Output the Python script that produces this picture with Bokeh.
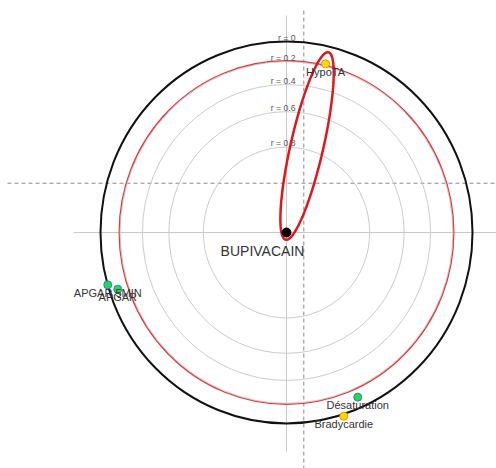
import numpy as np
from bokeh.plotting import figure
from bokeh.models import ColumnDataSource
from bokeh.core.properties import value
from bokeh.embed import file_html
from bokeh.resources import INLINE

# Focused PCA around BUPIVACAIN: position of each variable in the plane
names = ["HypoTA", "APGAR 5MIN", "APGAR", "Désaturation", "Bradycardie"]
xs = [0.21, -0.961, -0.907, 0.383, 0.308]
ys = [0.883, -0.274, -0.297, -0.862, -0.962]
fills = ["#ffdd00", "#22dd44", "#22dd44", "#22dd44", "#ffdd00"]
outlines = ["#ff8c00", "#3377dd", "#3377dd", "#3377dd", "#ff8c00"]

focus_name = "BUPIVACAIN"

# correlation rings (radius = sqrt(1 - r))
ring_r = [0.0, 0.2, 0.4, 0.6, 0.8]
ring_labels = ["r = 0", "r = 0.2", "r = 0.4", "r = 0.6", "r = 0.8"]
signif_radius = 0.9

# confidence ellipse of the focused variable
ell_center = (0.1105, 0.453)
ell_a, ell_b, ell_angle_deg = 0.504, 0.088, 76.8

FONT = "Liberation Sans"

p = figure(width=496, height=468, output_backend="svg", toolbar_location=None,
           x_range=(-1.5376, 1.129), y_range=(-1.2356, 1.2147),
           min_border=0, min_border_left=0, min_border_right=0,
           min_border_top=0, min_border_bottom=0)
p.axis.visible = False
p.grid.visible = False
p.outline_line_color = None
p.background_fill_color = "white"
p.border_fill_color = "white"

# reference axes through the centre
p.line([-1.145, 1.2], [0, 0], line_color="#c8c8c8", line_width=1)
p.line([0, 0], [1.136, -1.147], line_color="#c8c8c8", line_width=1)
# dashed guide lines
p.line([-1.5, 1.2], [0.258, 0.258], line_color="#8a8a8a", line_width=1, line_dash="4 3")
p.line([0.093, 0.093], [1.162, -1.3], line_color="#8a8a8a", line_width=1, line_dash="4 3")

# rings
radii = [float(np.sqrt(1 - r)) for r in ring_r]
inner = radii[1:]
p.ellipse(x=[0] * len(inner), y=[0] * len(inner), width=[2 * r for r in inner],
          height=[2 * r for r in inner], fill_color=None, line_color="#cccccc", line_width=1)
p.ellipse(x=[0], y=[0], width=[2 * signif_radius], height=[2 * signif_radius],
          fill_color=None, line_color="#e03a3a", line_width=1.2)
p.ellipse(x=[0], y=[0], width=[2 * radii[0]], height=[2 * radii[0]],
          fill_color=None, line_color="#111111", line_width=2)

p.text(x=[0] * len(radii), y=radii, text=ring_labels, text_align="right",
       text_baseline="middle", x_offset=9, y_offset=-4, text_font=value(FONT),
       text_font_size="6.5pt", text_color="#555555")

# confidence ellipse outline
t = np.linspace(0, 2 * np.pi, 200)
th = np.deg2rad(ell_angle_deg)
ex = ell_center[0] + ell_a * np.cos(t) * np.cos(th) - ell_b * np.sin(t) * np.sin(th)
ey = ell_center[1] + ell_a * np.cos(t) * np.sin(th) + ell_b * np.sin(t) * np.cos(th)
p.line(ex, ey, line_color="#e0161b", line_width=2.5)

# focused variable
p.scatter([0], [0], size=9, fill_color="black", line_color="black")
p.text(x=[0], y=[0], text=[focus_name], text_align="center", text_baseline="top",
       x_offset=-24, y_offset=10, text_font=value(FONT), text_font_size="14px",
       text_color="#333333")

# other variables
src = ColumnDataSource(dict(x=xs, y=ys, name=names, fill=fills, line=outlines))
p.scatter("x", "y", source=src, size=8, fill_color="fill", line_color="line", line_width=1)
p.text("x", "y", text="name", source=src, text_align="center", text_baseline="top",
       y_offset=2, text_font=value(FONT), text_font_size="11px", text_color="#333333")

open("out.html", "w").write(file_html(p, INLINE))
